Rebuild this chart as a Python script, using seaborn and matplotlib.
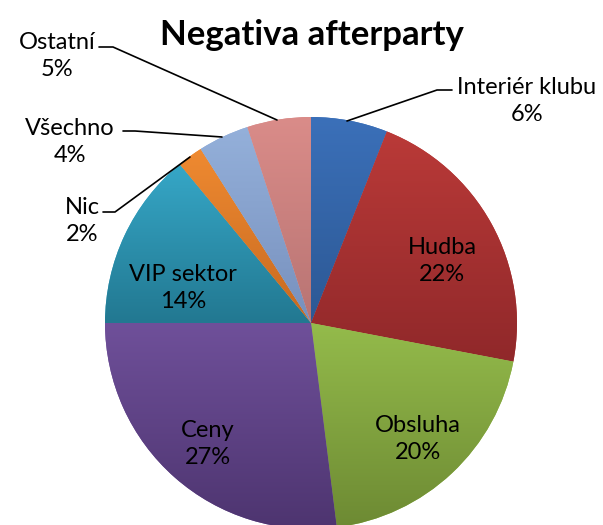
import numpy as np
import seaborn as sns
import matplotlib.pyplot as plt
from matplotlib.colors import to_rgb

# Data
categories = ['Interiér klubu', 'Hudba', 'Obsluha', 'Ceny', 'VIP sektor', 'Nic', 'Všechno', 'Ostatní']
shares = [6, 22, 20, 27, 14, 2, 4, 5]
top_colors = ['#3B70B9', '#BA3A38', '#94BB4B', '#6F509A', '#36A7C7', '#EF8A31', '#94B0DA', '#DA8C89']
bottom_colors = ['#2C5894', '#90282A', '#6D8A33', '#4D346F', '#227891', '#C66920', '#7790BD', '#B87473']

sns.set_theme(style='white')
plt.rcParams['font.family'] = ['Lato', 'DejaVu Sans']

fig = plt.figure(figsize=(6.03, 5.25), dpi=100)
ax = fig.add_axes([0, 0, 1, 1])

R = 206
wedges, _ = ax.pie(shares, colors=top_colors, startangle=90, counterclock=False,
                   radius=R, center=(0, 0), wedgeprops=dict(linewidth=0))

# vertical gradient inside each slice, lighter at the top
for w, c1, c2 in zip(wedges, top_colors, bottom_colors):
    v = w.get_path().vertices
    x0, x1 = v[:, 0].min(), v[:, 0].max()
    y0, y1 = v[:, 1].min(), v[:, 1].max()
    t = np.linspace(0, 1, 256)[:, None]
    grad = (1 - t) * np.array(to_rgb(c1)) + t * np.array(to_rgb(c2))
    img = ax.imshow(grad[:, None, :], extent=(x0, x1, y0, y1), origin='upper',
                    aspect='auto', interpolation='bilinear', zorder=1)
    img.set_clip_path(w)

pct = [f'{s}%' for s in shares]
fs = 17

# labels inside the pie (layout offsets from the centre, y up)
inside = {1: (131, 62), 2: (107, -116), 3: (-103, -121), 4: (-128, 35)}
for i, (x, y) in inside.items():
    ax.text(x, y, f'{categories[i]}\n{pct[i]}', ha='center', va='center',
            fontsize=fs, color='black', linespacing=1.3, zorder=3)

# labels outside the pie with leader lines
outside = {
    0: ((216, 222), [(36, 202), (126, 233), (141, 233)]),
    7: ((-254, 267), [(-34, 203), (-198, 276), (-212, 276)]),
    6: ((-241, 181), [(-89, 186), (-176, 192), (-188, 192)]),
    5: ((-229, 102), [(-121, 166), (-196, 111), (-208, 111)]),
}
for i, ((x, y), pts) in outside.items():
    ax.text(x, y, f'{categories[i]}\n{pct[i]}', ha='center', va='center',
            fontsize=fs, color='black', linespacing=1.3, zorder=3)
    px, py = zip(*pts)
    ax.plot(px, py, color='black', linewidth=1.2, zorder=2)

ax.text(1, 288, 'Negativa afterparty', ha='center', va='center',
        fontsize=25, fontweight='bold', color='black')

ax.set_xlim(-311, 292)
ax.set_ylim(-202, 323)
ax.set_aspect('equal')
ax.axis('off')

plt.savefig('out.png', dpi=100)
plt.close()
